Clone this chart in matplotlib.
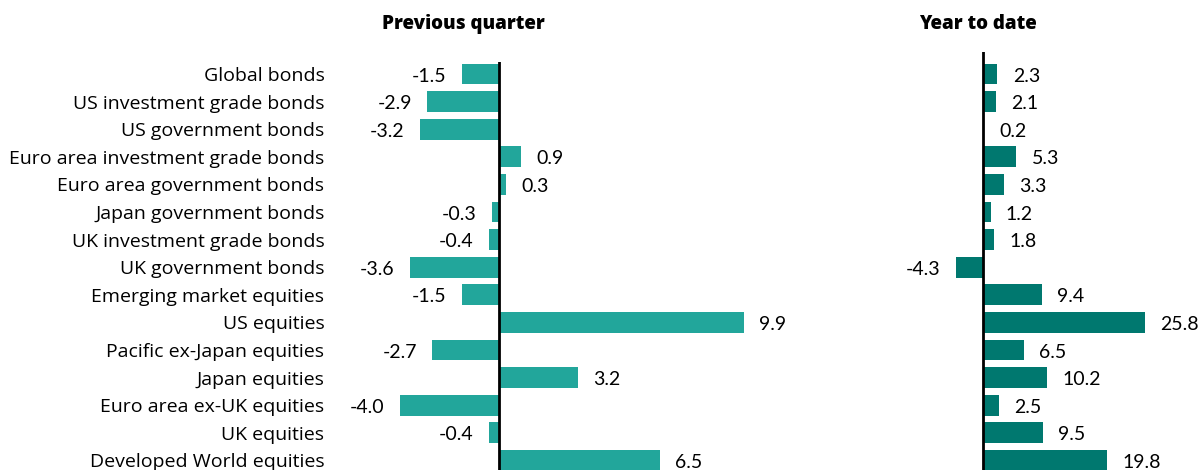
import numpy as np
import matplotlib.pyplot as plt

categories = ['Global bonds', 'US investment grade bonds', 'US government bonds',
              'Euro area investment grade bonds', 'Euro area government bonds',
              'Japan government bonds', 'UK investment grade bonds', 'UK government bonds',
              'Emerging market equities', 'US equities', 'Pacific ex-Japan equities',
              'Japan equities', 'Euro area ex-UK equities', 'UK equities',
              'Developed World equities']
prev_quarter = [-1.5, -2.9, -3.2, 0.9, 0.3, -0.3, -0.4, -3.6, -1.5, 9.9, -2.7, 3.2, -4.0, -0.4, 6.5]
year_to_date = [2.3, 2.1, 0.2, 5.3, 3.3, 1.2, 1.8, -4.3, 9.4, 25.8, 6.5, 10.2, 2.5, 9.5, 19.8]

plt.rcParams['font.family'] = ['Lato', 'DejaVu Sans']

W, H = 1200, 470
fig = plt.figure(figsize=(12, 4.7), dpi=100)

# pixel layout helpers
def px_axes(x0, x1, y0, y1):
    return fig.add_axes([x0 / W, 1 - y1 / H, (x1 - x0) / W, (y1 - y0) / H])

row0, pitch = 74, 27.6
y = np.arange(len(categories))

def panel(ax, vals, color, zero_px, scale, top_px):
    x0 = ax.get_position().x0 * W
    x1 = ax.get_position().x1 * W
    ax.set_xlim((x0 - zero_px) / scale, (x1 - zero_px) / scale)
    ax.set_ylim((H - row0) / pitch, (top_px - row0) / pitch)
    ax.barh(y, vals, height=0.76, color=color)
    ax.axvline(0, color='black', lw=2)
    for i, v in enumerate(vals):
        off = 11 if v >= 0 else -11
        ax.annotate(f'{v:.1f}', (v, i), xytext=(off, -1.5), textcoords='offset points',
                    ha='left' if v >= 0 else 'right', va='center', fontsize=14)
    for s in ax.spines.values():
        s.set_visible(False)
    ax.set_xticks([])

ax1 = px_axes(380, 790, 62, 470)
panel(ax1, prev_quarter, '#22A69B', 499, 24.75, 62)
ax1.set_yticks(y)
ax1.set_yticklabels(categories, fontsize=14, family=['Open Sans', 'DejaVu Sans'])
ax1.tick_params(axis='y', length=0, pad=40)

ax2 = px_axes(940, 1200, 52, 470)
panel(ax2, year_to_date, '#00786F', 983, 6.28, 52)
ax2.set_yticks([])

tfont = dict(ha='center', va='center', fontsize=13.5, fontweight='heavy',
             family=['Open Sans', 'DejaVu Sans'])
fig.text(463 / W, 1 - 24 / H, 'Previous quarter', **tfont)
fig.text(978 / W, 1 - 24 / H, 'Year to date', **tfont)

fig.savefig('out.png', dpi=100)
